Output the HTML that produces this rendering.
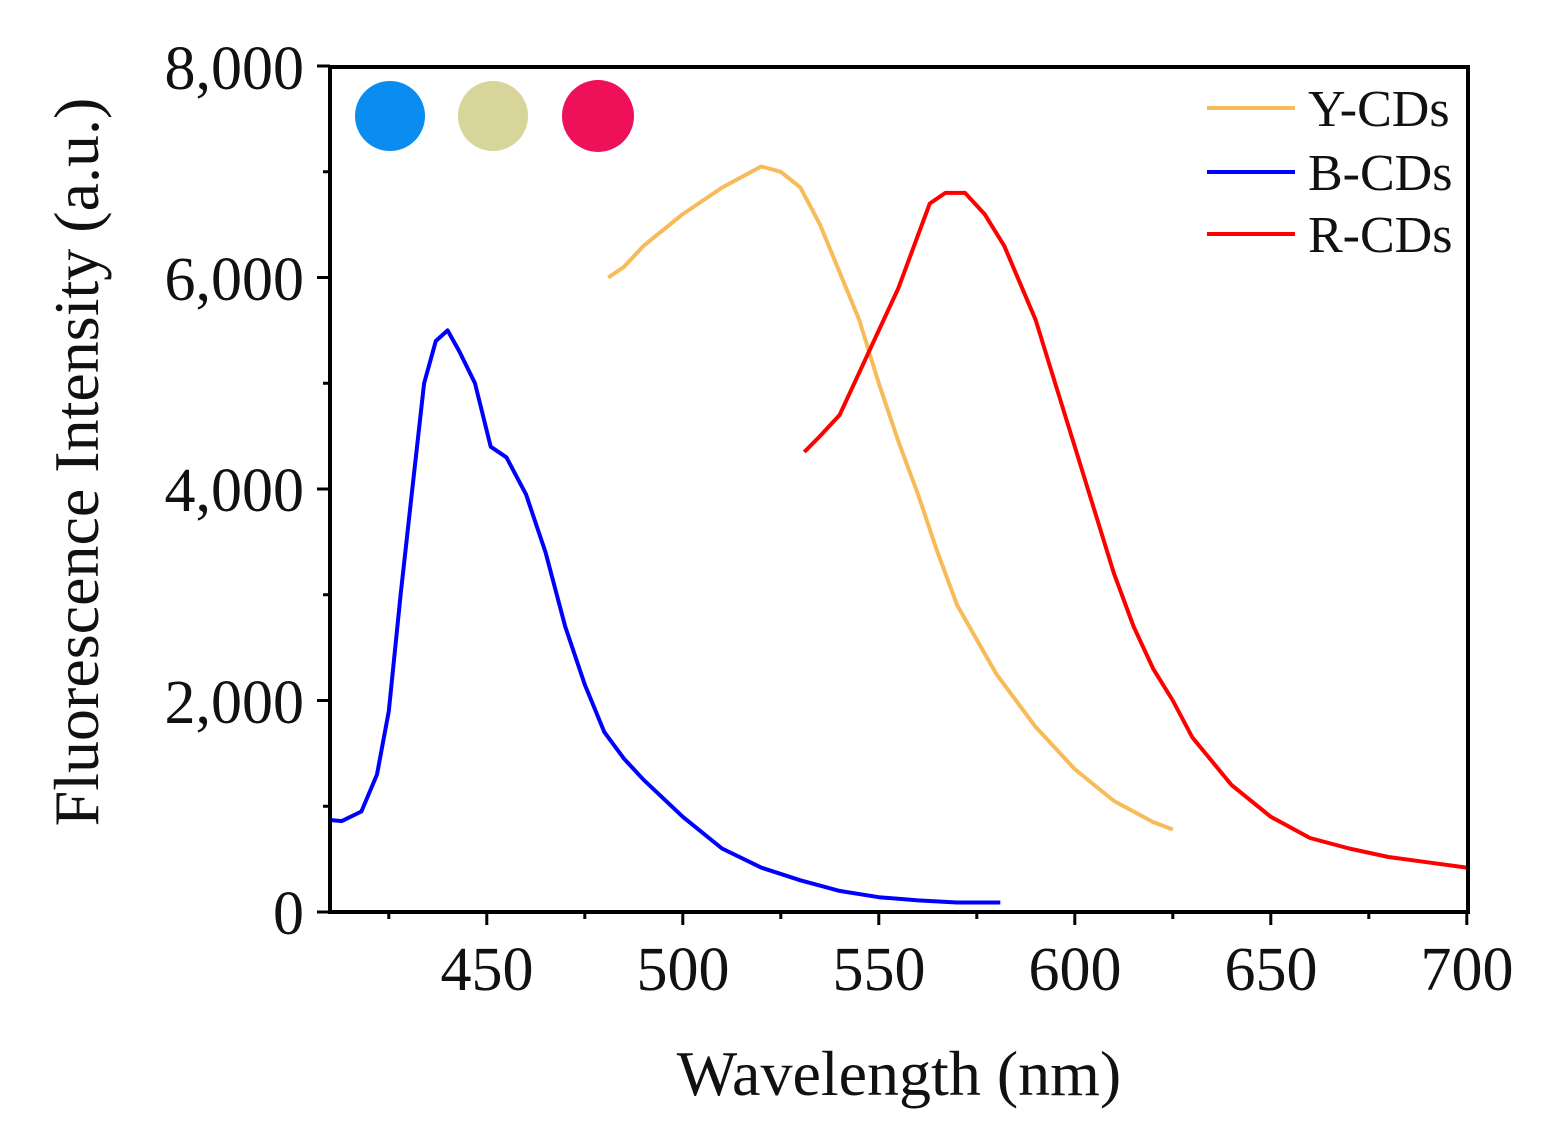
<!DOCTYPE html>
<html><head><meta charset="utf-8"><style>
html,body{margin:0;padding:0;background:#fff;}
svg{display:block;font-family:"Liberation Serif",serif;}
</style></head><body>
<svg id="s" width="1545" height="1144" viewBox="0 0 1545 1144" xmlns="http://www.w3.org/2000/svg">
<rect width="1545" height="1144" fill="#fff"/>
<circle cx="390" cy="116" r="35" fill="#0a8cf0"/>
<circle cx="493" cy="116" r="35" fill="#d8d59b"/>
<circle cx="598" cy="116" r="36" fill="#ee1058"/>
<g id="ticks" stroke="#000" stroke-width="3"></g>
<polyline id="b" fill="none" stroke="#0000ff" stroke-width="4" stroke-linejoin="round"/>
<polyline id="y" fill="none" stroke="#f8bb5a" stroke-width="4" stroke-linejoin="round"/>
<polyline id="r" fill="none" stroke="#ff0000" stroke-width="4" stroke-linejoin="round"/>
<rect x="330" y="67" width="1138" height="845" fill="none" stroke="#000" stroke-width="4"/>
<g font-size="62" text-anchor="end" fill="#111">
<text x="304" y="934">0</text>
<text x="304" y="723">2,000</text>
<text x="304" y="511">4,000</text>
<text x="304" y="300">6,000</text>
<text x="304" y="89">8,000</text>
</g>
<g font-size="62" text-anchor="middle" fill="#111">
<text x="487" y="990">450</text>
<text x="683" y="990">500</text>
<text x="879" y="990">550</text>
<text x="1075" y="990">600</text>
<text x="1271" y="990">650</text>
<text x="1467" y="990">700</text>
</g>
<text x="899" y="1095" font-size="64" text-anchor="middle" fill="#111">Wavelength (nm)</text>
<text transform="translate(98,462) rotate(-90)" font-size="64" text-anchor="middle" fill="#111">Fluorescence Intensity (a.u.)</text>
<g stroke-width="4">
<line x1="1207" y1="108" x2="1295" y2="108" stroke="#f8bb5a"/>
<line x1="1207" y1="172" x2="1295" y2="172" stroke="#0000ff"/>
<line x1="1207" y1="234" x2="1295" y2="234" stroke="#ff0000"/>
</g>
<g font-size="52" fill="#111">
<text x="1308" y="126">Y-CDs</text>
<text x="1308" y="190">B-CDs</text>
<text x="1308" y="252">R-CDs</text>
</g>
</svg>
<script>
function X(n){return 330+(n-410)*3.92}
function Y(v){return 912-v*0.10575}
function pts(a){return a.map(p=>X(p[0]).toFixed(1)+","+Y(p[1]).toFixed(1)).join(" ")}
var B=[[410,870],[413,860],[418,950],[422,1300],[425,1900],[428,3000],[431,4000],[434,5000],[437,5400],[440,5500],[443,5300],[447,5000],[451,4400],[455,4300],[460,3950],[465,3400],[470,2700],[475,2150],[480,1700],[485,1450],[490,1250],[500,900],[510,600],[520,420],[530,300],[540,200],[550,140],[560,110],[570,90],[581,90]];
var Yc=[[481,6000],[485,6100],[490,6300],[500,6600],[510,6850],[520,7050],[525,7000],[530,6850],[535,6500],[540,6050],[545,5600],[550,5000],[555,4450],[560,3950],[565,3400],[570,2900],[580,2250],[590,1750],[600,1350],[610,1050],[620,850],[625,780]];
var R=[[531,4350],[535,4500],[540,4700],[545,5100],[550,5500],[555,5900],[560,6400],[563,6700],[567,6800],[572,6800],[577,6600],[582,6300],[590,5600],[595,5000],[600,4400],[605,3800],[610,3200],[615,2700],[620,2300],[625,2000],[630,1650],[640,1200],[650,900],[660,700],[670,600],[680,520],[690,470],[700,420]];
document.getElementById('b').setAttribute('points',pts(B));
document.getElementById('y').setAttribute('points',pts(Yc));
document.getElementById('r').setAttribute('points',pts(R));
var g=document.getElementById('ticks'),h='';
for(var n=425;n<=700;n+=25){var x=X(n),L=(n%50==0)?13:7;h+='<line x1="'+x+'" y1="912" x2="'+x+'" y2="'+(912+L)+'"/>';}
for(var v=0;v<=8000;v+=1000){var y=Y(v),L=(v%2000==0)?13:7;h+='<line x1="330" y1="'+y+'" x2="'+(330-L)+'" y2="'+y+'"/>';}
g.innerHTML=h;
</script>
</body></html>
